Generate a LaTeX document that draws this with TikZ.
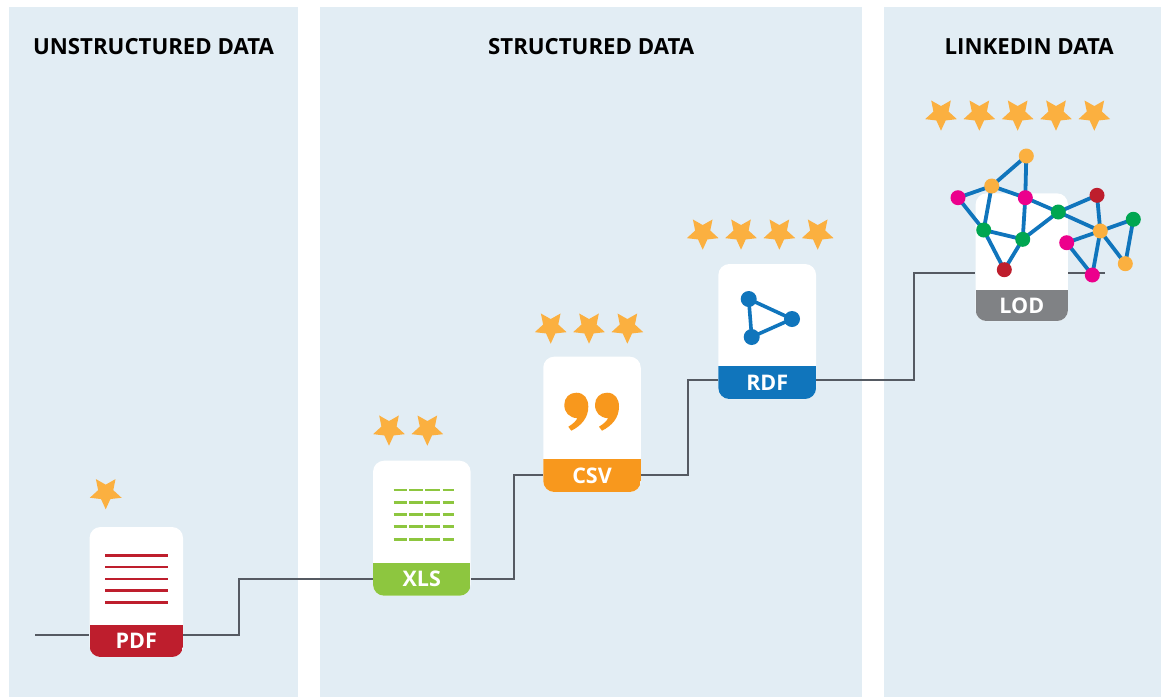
\documentclass[tikz,border=0pt]{standalone}
\usepackage{fontspec}
\setmainfont{Open Sans}
\usetikzlibrary{positioning,shapes.geometric}
\definecolor{panelblue}{HTML}{E2EDF4}
\definecolor{starorange}{HTML}{FBB040}
\definecolor{linkgray}{HTML}{555A62}
\definecolor{pdfred}{HTML}{BE1E2D}
\definecolor{xlsgreen}{HTML}{8DC63F}
\definecolor{csvorange}{HTML}{F8981D}
\definecolor{rdfblue}{HTML}{1075BC}
\definecolor{lodgray}{HTML}{808285}
\definecolor{netpink}{HTML}{EC008C}
\definecolor{netgreen}{HTML}{00A651}
\tikzset{
  panel/.style={rectangle,fill=panelblue,inner sep=0pt,minimum height=690.5,anchor=north west},
  panelhead/.style={font=\bfseries\fontsize{22.2}{26}\selectfont,text=black,inner sep=0pt},
  staricon/.style={star,star points=5,star point ratio=2.1,shape border rotate=180,fill=starorange,minimum size=33.4,inner sep=0pt},
  card/.style 2 args={rectangle,rounded corners=11,fill=white,inner sep=0pt,
    path picture={\fill[#1,sharp corners] ([yshift=#2pt]path picture bounding box.south west) rectangle (path picture bounding box.south east);}},
  bandlabel/.style={font=\bfseries\fontsize{21.5}{26}\selectfont,text=white,inner sep=0pt,minimum width=90},
  link/.style={draw=linkgray,line width=1.6},
  rdfdot/.style={circle,fill=rdfblue,inner sep=0pt,minimum size=16},
  netdot/.style={circle,fill=#1,inner sep=0pt,minimum size=15},
  netedge/.style={draw=rdfblue,line width=3.8},
}
\begin{document}
\begin{tikzpicture}[x=1pt,y=-1pt]
\useasboundingbox (0,0) rectangle (1161,697);
% panels
\node[panel,minimum width=288.7] (unstructured) at (9,6.5) {};
\node[panel,minimum width=542] (structured) at (320,6.5) {};
\node[panel,minimum width=277] (linkedin) at (884,6.5) {};
\node[panelhead,below=32pt of unstructured.north] (headone) {UNSTRUCTURED DATA};
\node[panelhead,below=32pt of structured.north] (headtwo) {STRUCTURED DATA};
\node[panelhead,below=32pt of linkedin.north,xshift=6.5pt] (headthree) {LINKEDIN DATA};

% cards
\node[card={pdfred}{32},minimum width=93.5,minimum height=130] (pdf) at (136.3,592) {};
\node[card={xlsgreen}{33},minimum width=97.5,minimum height=135] (xls) at (421.8,528.2) {};
\node[card={csvorange}{33},minimum width=97.5,minimum height=135.3] (csv) at (592,424.3) {};
\node[card={rdfblue}{33},minimum width=97.7,minimum height=135] (rdf) at (767.2,331.5) {};
\node[card={lodgray}{31},minimum width=92.3,minimum height=127.7] (lod) at (1021.8,257.2) {};
\node[bandlabel,minimum height=32,above=0pt of pdf.south] (pdfband) {PDF};
\node[bandlabel,minimum height=33,above=0pt of xls.south] (xlsband) {XLS};
\node[bandlabel,minimum height=33,above=0pt of csv.south] (csvband) {CSV};
\node[bandlabel,minimum height=33,above=0pt of rdf.south] (rdfband) {RDF};
\node[bandlabel,minimum height=31,above=0pt of lod.south] (lodband) {LOD};

% stars
\node[staricon] (pdfstar) at (105.7,492.6) {};
\foreach \i in {0,1} \node[staricon] (xlsstar\i) at (389+38.33*\i,429) {};
\foreach \i in {0,1,2} \node[staricon] (csvstar\i) at (550.7+38.33*\i,327) {};
\foreach \i in {0,...,3} \node[staricon] (rdfstar\i) at (702.7+38.33*\i,233) {};
\foreach \i in {0,...,4} \node[staricon] (lodstar\i) at (941+38.33*\i,114) {};

% connectors
\coordinate (linkin) at (35,635);
\coordinate (stepone) at (239,579);
\coordinate (steptwo) at (514,475);
\coordinate (stepthree) at (688,380);
\coordinate (stepfour) at (914,273);
\coordinate (linkout) at (1105,273);
\draw[link] (linkin) -- (linkin-|pdf.west);
\draw[link] (linkin-|pdf.east) -| (stepone) -- (stepone-|xls.west);
\draw[link] (stepone-|xls.east) -| (steptwo) -- (steptwo-|csv.west);
\draw[link] (steptwo-|csv.east) -| (stepthree) -- (stepthree-|rdf.west);
\draw[link] (stepthree-|rdf.east) -| (stepfour) -- (stepfour-|lod.west);
\draw[link] (stepfour-|lod.east) -- (linkout);

% icons
\foreach \y in {555.3,567,579,590.7,602.3}
  \draw[pdfred,line width=2.5] (105.3,\y) -- (167.7,\y);
\foreach \y in {490,502.3,514.7,526.7,539.3}
  \foreach \a/\b in {393.7/406.7,409/423.3,425.3/440.3,442.7/454}
    \draw[xlsgreen,line width=2.5] (\a,\y) -- (\b,\y);
\foreach \q in {564.3,595}
  \fill[csvorange,shift={(\q,392.7)}] (0,12) .. controls (0,5) and (5,0) .. (12,0)
    .. controls (20,0) and (24,6) .. (24,14) .. controls (24,25) and (17,33) .. (7,38)
    -- (4,34) .. controls (9,31) and (12,28) .. (13,25.5) .. controls (5,25) and (0,20) .. (0,12) -- cycle;
\node[rdfdot] (rdfa) at (748.7,299) {};
\node[rdfdot] (rdfb) at (792,319) {};
\node[rdfdot] (rdfc) at (751.7,337) {};
\draw[rdfblue,line width=3.6] (rdfa.center) -- (rdfb.center) -- (rdfc.center) -- cycle;

% linked data network
\foreach \n/\x/\y in {a/1026.3/156,b/991.7/186,c/958/197.7,d/1025.3/197.7,e/1058.3/212,f/1097/195.3,g/1133.3/219.3,
    h/1100.3/231,i/1066.7/242.7,j/1125.3/263.7,k/1092.3/275,l/983.7/230,m/1022.7/239.3,n/1004.3/269.7}
  \coordinate (pos\n) at (\x,\y);
\foreach \s/\t in {a/b,a/d,b/c,b/d,b/l,c/l,d/e,d/m,e/m,e/f,e/h,f/h,g/h,g/j,h/j,h/i,h/k,i/k,l/m,l/n,m/n}
  \draw[netedge] (pos\s) -- (pos\t);
\foreach \n/\c in {a/starorange,b/starorange,c/netpink,d/netpink,e/netgreen,f/pdfred,g/netgreen,
    h/starorange,i/netpink,j/starorange,k/netpink,l/netgreen,m/netgreen,n/pdfred}
  \node[netdot=\c] (net\n) at (pos\n) {};
\end{tikzpicture}
\end{document}
